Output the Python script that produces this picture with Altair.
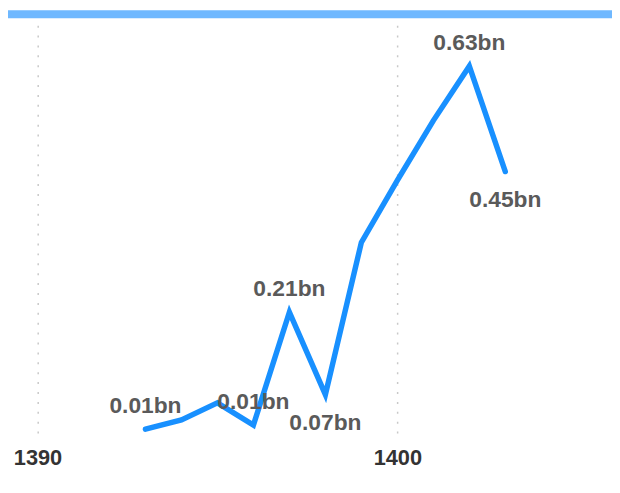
import altair as alt
import pandas as pd

years = [1393, 1394, 1395, 1396, 1397, 1398, 1399, 1400, 1401, 1402, 1403]
values = [0.010, 0.026, 0.055, 0.017, 0.210, 0.069, 0.329, 0.435, 0.537, 0.630, 0.450]
labels = ["0.01bn", "", "", "0.01bn", "0.21bn", "0.07bn", "", "", "", "0.63bn", "0.45bn"]
label_pos = ["above", "", "", "above", "above", "below", "", "", "", "above", "below"]
tick_years = [1390, 1400]

df = pd.DataFrame({"year": years, "value": values, "label": labels, "pos": label_pos})

FONT = "Liberation Sans"
x_scale = alt.Scale(domain=[1389.18, 1405.69], nice=False, zero=False)
y_scale = alt.Scale(domain=[0, 0.7], nice=False)

base = alt.Chart(df).encode(
    x=alt.X("year:Q", scale=x_scale,
            axis=alt.Axis(values=tick_years, format="d", title=None, domain=False,
                          ticks=False, grid=True, gridDash=[2, 8], gridColor="#c8c8c8",
                          gridWidth=1.5, labelFont=FONT, labelFontSize=22,
                          labelFontWeight="bold", labelColor="#333333",
                          labelPadding=13)),
    y=alt.Y("value:Q", scale=y_scale, axis=None),
)

line = base.mark_line(color="#1890ff", strokeWidth=5.5, strokeCap="round",
                      strokeJoin="miter")

above = base.mark_text(font=FONT, fontSize=23, fontWeight="bold", color="#5a5a5a",
                       align="center", baseline="alphabetic", dy=-16.5).encode(
    text="label:N").transform_filter(alt.datum.pos == "above")

below = base.mark_text(font=FONT, fontSize=23, fontWeight="bold", color="#5a5a5a",
                       align="center", baseline="alphabetic", dy=35.5).encode(
    text="label:N").transform_filter(alt.datum.pos == "below")

bar = alt.Chart(pd.DataFrame({"k": [0]})).mark_rect(color="#6fb8ff").encode(
    x=alt.value(0), x2=alt.value(610), y=alt.value(-15), y2=alt.value(-7))

chart = alt.layer(bar, line, above, below).properties(
    width=600, height=414,
    padding={"left": 0, "top": 15, "right": 10, "bottom": 40},
    autosize=alt.AutoSizeParams(type="none"),
).configure_view(stroke=None)

chart.save("out.html", embed_options={"renderer": "svg", "actions": False})
